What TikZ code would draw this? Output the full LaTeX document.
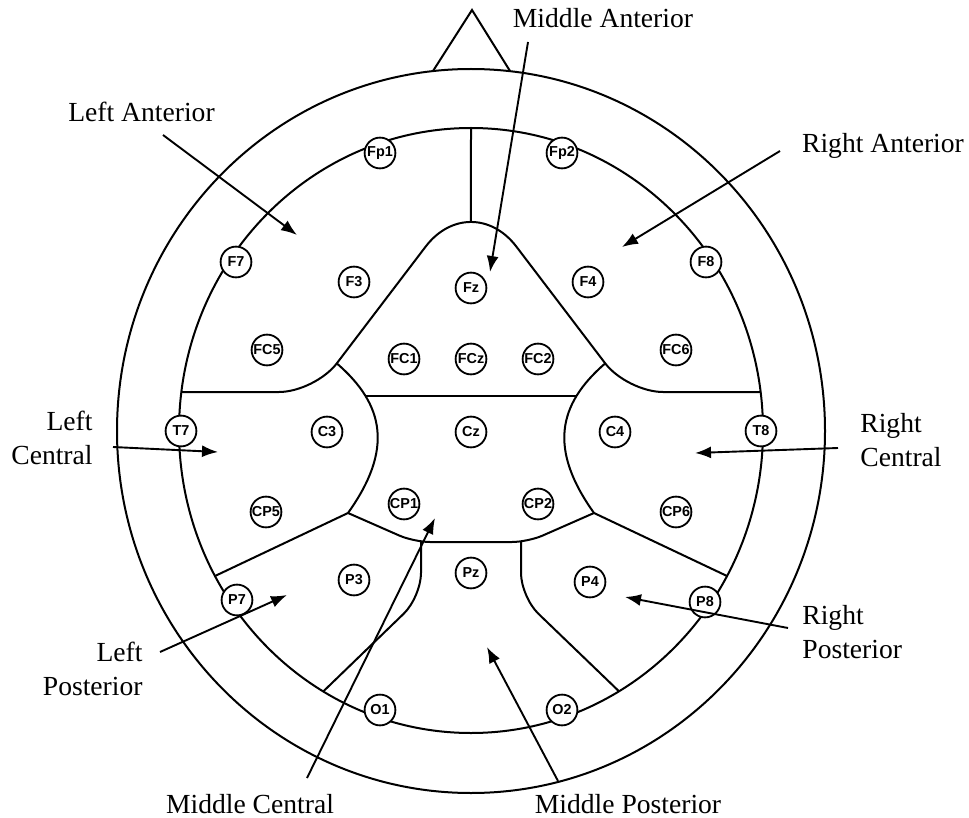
\documentclass[tikz,border=0pt]{standalone}
\usepackage{fontspec}
\setmainfont{Liberation Serif}
\newfontfamily\elfont{Liberation Sans}
\usetikzlibrary{arrows.meta,intersections}
\begin{document}
\begin{tikzpicture}[x=0.5pt,y=-0.5pt,
  reg/.style={line width=1pt},
  elec/.style={circle,draw,line width=0.9pt,fill=white,minimum size=15.4pt,inner sep=0pt,font=\elfont\bfseries\fontsize{7.2}{8}\selectfont},
  lbl/.style={font=\fontsize{13.8}{17}\selectfont,inner sep=0pt},
  arr/.style={line width=0.95pt,-{Latex[length=8pt,width=6pt]}}]
\useasboundingbox (0,0) rectangle (969,818);
% head outline
\draw[reg] (471,431) circle[x radius=354, y radius=362];
\draw[reg] (433,71) -- (472,10) -- (510,71);
\draw[reg] (471,430.5) circle[x radius=292, y radius=302.5];
% middle anterior boundary
\draw[reg,rounded corners=18pt] (181.4,392) -- (315,392) -- (393,289.5);
\draw[reg,rounded corners=37.5pt,name path=topr] (393,289.5) -- (471,187) -- (549,289.5);
\draw[reg,rounded corners=18pt] (549,289.5) -- (627,392) -- (760.6,392);
\path[name path=vl] (471,100) -- (471,300);
\path[name intersections={of=topr and vl,by=mtop}];
\draw[reg] (471,128) -- (mtop);
% central curves
\draw[reg,name path=c3] (336.8,363.4) .. controls (385,405) and (393,450) .. (348,513);
\draw[reg,name path=c4] (605.2,363.4) .. controls (557,405) and (549,450) .. (594,513);
\path[name path=hl] (300,396) -- (650,396);
\path[name intersections={of=c3 and hl,by=hL}];
\path[name intersections={of=c4 and hl,by=hR}];
\draw[reg] (hL) -- (hR);
% lower boundaries
\draw[reg] (348,513) -- (215,576);
\draw[reg] (594,513) -- (727,576);
\draw[reg,rounded corners=8pt] (348,513) -- (414,542) -- (528,542) -- (594,513);
\draw[reg,rounded corners=12pt] (421,542) -- (421,597) -- (323,691.7);
\draw[reg,rounded corners=12pt] (521,542) -- (521,597) -- (619,691.3);
% electrodes
\node[elec] (Fp1) at (380,153) {Fp1};
\node[elec] (Fp2) at (562,153) {Fp2};
\node[elec] (F7) at (236,262) {F7};
\node[elec] (F8) at (706,262) {F8};
\node[elec] (F3) at (354,282) {F3};
\node[elec] (Fz) at (471,288) {Fz};
\node[elec] (F4) at (588,282) {F4};
\node[elec] (FC5) at (267,350) {FC5};
\node[elec] (FC6) at (676,350) {FC6};
\node[elec] (FC1) at (404,359) {FC1};
\node[elec] (FCz) at (471,359) {FCz};
\node[elec] (FC2) at (538,359) {FC2};
\node[elec] (T7) at (181,431) {T7};
\node[elec] (C3) at (327,432) {C3};
\node[elec] (Cz) at (471,432) {Cz};
\node[elec] (C4) at (615,432) {C4};
\node[elec] (T8) at (761,431) {T8};
\node[elec] (CP5) at (266,512) {CP5};
\node[elec] (CP6) at (676,512) {CP6};
\node[elec] (CP1) at (404,504) {CP1};
\node[elec] (CP2) at (538,504) {CP2};
\node[elec] (P7) at (237,600) {P7};
\node[elec] (P3) at (354,580) {P3};
\node[elec] (Pz) at (471,573) {Pz};
\node[elec] (P4) at (590,582) {P4};
\node[elec] (P8) at (705,602) {P8};
\node[elec] (O1) at (380,710) {O1};
\node[elec] (O2) at (562,710) {O2};
% labels
\node[lbl,anchor=base] (tLA) at (141.5,122) {Left Anterior};
\node[lbl,anchor=base] (tMA) at (603,28) {Middle Anterior};
\node[lbl,anchor=base] (tRA) at (883,153) {Right Anterior};
\node[lbl,align=right,anchor=base east] (tLC) at (93,464) {Left\\Central};
\node[lbl,align=left,anchor=base west] (tRC) at (860,466) {Right\\Central};
\node[lbl,align=right,anchor=base east] (tLP) at (143,695) {Left\\Posterior};
\node[lbl,align=left,anchor=base west] (tRP) at (802,658) {Right\\Posterior};
\node[lbl,anchor=base] (tMC) at (250,813) {Middle Central};
\node[lbl,anchor=base] (tMP) at (628,813) {Middle Posterior};
% arrow ends
\coordinate (laS) at (163,135); \coordinate (laT) at (297,235);
\coordinate (maS) at (528,42);  \coordinate (maT) at (490,272);
\coordinate (raS) at (780,151); \coordinate (raT) at (622,247);
\coordinate (lcS) at (113,447); \coordinate (lcT) at (218,452);
\coordinate (rcS) at (838,448); \coordinate (rcT) at (695,453);
\coordinate (lpS) at (160,652); \coordinate (lpT) at (287,595);
\coordinate (rpS) at (788,628); \coordinate (rpT) at (625,597);
\coordinate (mcS) at (307,778); \coordinate (mcT) at (435,518);
\coordinate (mpS) at (558,781); \coordinate (mpT) at (487,647);
\draw[arr] (laS) -- (laT);
\draw[arr] (maS) -- (maT);
\draw[arr] (raS) -- (raT);
\draw[arr] (lcS) -- (lcT);
\draw[arr] (rcS) -- (rcT);
\draw[arr] (lpS) -- (lpT);
\draw[arr] (rpS) -- (rpT);
\draw[arr] (mcS) -- (mcT);
\draw[arr] (mpS) -- (mpT);
\end{tikzpicture}
\end{document}
